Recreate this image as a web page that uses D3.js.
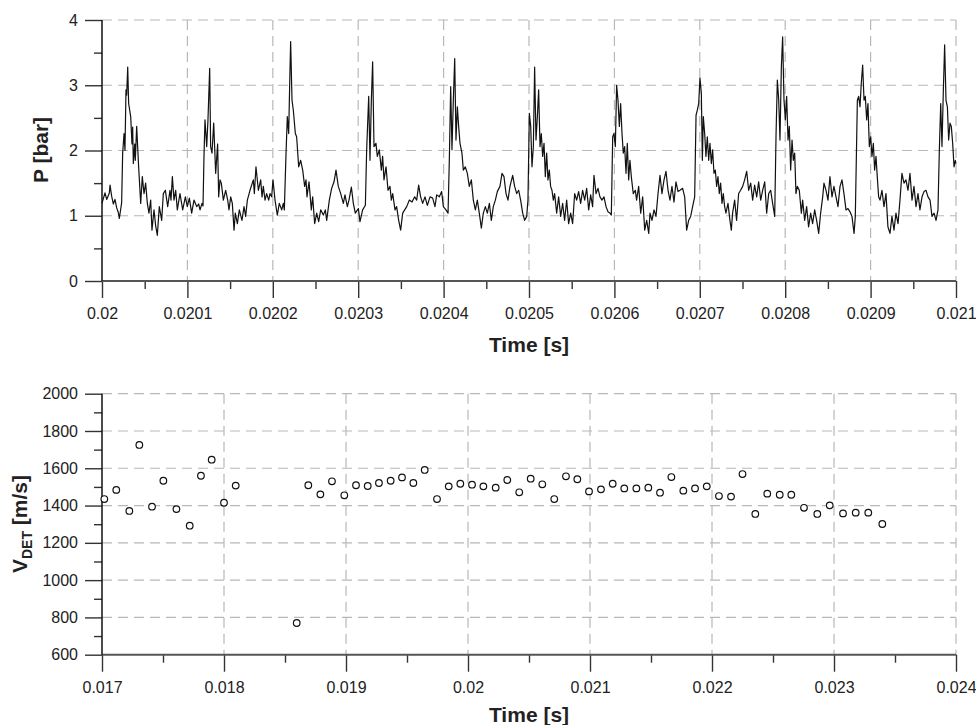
<!DOCTYPE html>
<html>
<head>
<meta charset="utf-8">
<script src="https://cdn.jsdelivr.net/npm/d3@7"></script>
<style>
  body { margin: 0; background: #fff; }
  svg { display: block; font-family: "Liberation Sans", Arial, Helvetica, sans-serif; }
  .tick text { font-size: 16px; fill: #222; }
  .title { font-size: 21px; font-weight: bold; fill: #222; }
  .grid { stroke: #b8b8b8; stroke-width: 1.2; stroke-dasharray: 10,6; fill: none; }
</style>
</head>
<body>
<svg width="976" height="725"></svg>
<script>
// ---- top panel: pressure trace, time given as microseconds after 0.020 s ----
var pTimeUs = [
  0.0,3.5,5.5,8.6,9.4,11.3,13.3,15.2,17.2,19.1,20.3,21.9,23.0,24.2,25.8,26.9,28.1,28.9,30.1,31.2,
  33.6,35.1,35.9,36.7,38.3,39.0,40.6,42.9,45.3,47.2,49.2,51.1,53.1,55.0,57.0,58.5,60.9,62.8,64.8,67.1,
  69.9,71.8,74.2,76.9,79.6,80.8,82.4,84.3,86.3,88.2,91.3,94.5,97.6,99.9,102.3,105.0,107.7,110.9,113.2,114.8,
  117.1,118.3,119.4,120.6,122.6,124.1,126.1,127.2,128.8,130.8,133.1,135.4,136.6,138.2,139.7,142.1,144.8,147.2,148.7,150.7,
  152.6,154.6,156.1,158.5,160.8,163.9,166.3,168.2,170.2,173.3,177.2,178.4,180.3,183.1,185.8,187.4,188.9,190.9,192.8,195.2,
  196.7,198.7,200.2,202.6,205.3,207.6,210.4,212.3,213.5,215.5,217.0,218.6,219.8,220.9,222.5,224.0,226.4,227.9,230.3,232.6,
  235.0,237.3,238.9,240.0,242.4,245.1,246.7,249.0,251.4,253.7,256.1,259.2,261.5,263.1,266.2,
  268.9,271.7,274.0,276.7,279.5,282.6,284.5,287.3,289.2,292.0,294.3,296.6,300.2,302.1,305.2,308.4,309.9,312.3,313.8,315.4,
  316.9,318.5,320.8,322.4,324.7,327.1,328.6,330.2,332.6,334.9,337.2,338.8,340.4,343.1,345.0,347.4,349.7,352.1,354.4,356.8,
  359.9,363.0,366.1,368.5,370.8,373.1,375.5,378.2,381.0,384.1,387.2,389.9,391.9,395.0,397.7,399.7,402.8,405.2,406.7,408.3,
  409.8,411.4,413.0,414.5,416.1,417.6,419.2,421.5,423.1,425.4,427.8,430.1,432.5,434.8,437.2,439.5,441.8,444.2,446.5,448.9,
  451.2,453.6,455.9,458.2,460.6,462.9,466.0,468.4,470.7,473.1,475.4,477.7,480.9,483.2,485.6,487.9,490.2,492.6,494.9,497.3,
  498.8,500.4,502.0,503.5,505.1,506.6,508.2,509.8,511.3,512.9,514.4,516.0,517.6,519.1,520.7,522.2,523.8,525.3,526.9,528.5,
  530.0,532.4,534.7,537.1,539.4,541.7,544.1,546.4,548.8,551.1,553.5,555.8,558.1,560.5,562.8,565.2,567.5,569.9,572.2,574.5,
  576.1,578.5,580.8,583.1,585.5,587.8,590.2,592.5,594.9,596.4,598.0,599.5,601.1,602.6,604.2,605.8,607.3,608.9,610.4,612.0,
  613.6,615.1,616.7,618.2,619.8,622.1,624.5,626.0,628.4,630.8,633.1,635.5,637.8,640.2,
  641.7,644.0,646.4,648.7,651.1,653.4,655.7,658.1,660.4,662.8,665.1,667.4,669.8,672.1,674.5,676.8,679.9,682.3,684.6,687.0,
  689.3,691.6,694.0,695.6,697.1,698.7,700.2,701.8,703.0,704.1,705.7,707.2,708.8,710.4,711.9,713.5,715.0,716.6,718.2,719.7,
  721.3,722.8,724.4,726.0,727.5,729.1,730.6,733.0,735.3,736.9,738.4,740.8,743.1,745.5,747.8,750.2,752.5,754.9,757.2,759.6,
  761.9,764.2,766.6,768.9,771.3,773.6,776.0,778.3,780.7,783.0,785.3,787.7,789.3,790.8,792.4,793.9,795.5,797.0,798.6,800.2,
  801.7,803.3,804.8,806.4,808.0,809.5,811.1,812.6,814.2,816.5,818.9,820.4,822.8,825.1,827.4,829.8,832.1,834.5,836.8,839.2,
  841.5,843.9,845.4,847.8,850.1,852.4,854.8,857.1,859.5,861.8,864.2,866.5,868.8,871.2,873.5,875.9,878.2,880.6,882.1,884.5,
  886.0,887.6,889.1,890.7,892.3,893.8,895.4,896.9,898.5,900.1,901.6,903.2,904.7,906.3,907.8,909.4,911.0,913.3,915.7,918.0,
  920.3,922.7,925.0,927.4,929.7,932.1,934.4,936.7,939.1,941.4,943.8,946.1,948.5,950.8,953.2,955.5,957.8,960.2,962.5,964.9,
  967.2,969.6,971.9,974.3,976.6,978.9,980.5,982.1,983.6,985.2,986.7,988.3,989.9,991.4,993.0,994.5,996.1,997.7,999.2,1000.0
];
var pBar = [
  1.19,1.35,1.25,1.35,1.47,1.3,1.18,1.25,1.12,1.05,0.96,1.1,1.2,1.96,2.26,2.0,2.93,2.85,3.28,2.72,
  2.52,2.1,2.36,1.8,2.1,1.85,2.37,1.75,1.19,1.6,1.34,1.5,1.19,1.04,1.24,0.78,1.09,0.85,0.7,1.14,
  0.93,1.34,1.39,1.14,1.39,1.24,1.6,1.24,1.39,1.09,1.34,1.09,1.29,1.14,1.27,1.04,1.24,1.14,1.18,1.09,
  1.19,1.15,1.9,2.47,2.06,2.47,3.26,2.06,1.96,2.42,1.65,2.1,1.29,1.55,1.5,1.24,1.39,1.24,1.09,1.29,
  1.19,0.78,1.04,0.88,1.09,0.93,1.14,0.99,1.24,1.39,1.55,1.34,1.75,1.39,1.55,1.29,1.45,1.24,1.34,1.24,
  1.34,1.29,1.55,1.24,1.01,1.19,1.09,1.19,1.09,1.96,2.52,2.26,3.03,3.67,2.77,2.62,2.26,2.21,1.75,1.85,
  1.7,1.45,1.55,1.29,1.52,1.09,1.29,0.88,1.04,0.91,1.09,1.01,1.09,0.93,1.24,
  1.42,1.52,1.7,1.45,1.34,1.19,1.32,1.14,1.24,1.44,1.19,1.04,1.11,0.91,1.09,1.16,2.01,2.83,1.85,2.77,
  3.36,2.06,2.11,1.91,2.01,1.7,1.91,1.55,1.75,1.39,1.45,1.24,1.34,1.09,1.14,0.93,0.78,1.04,1.09,1.14,
  1.24,1.21,1.29,1.24,1.47,1.29,1.19,1.29,1.16,1.29,1.27,1.14,1.32,1.29,1.37,1.14,1.09,1.04,1.85,2.98,
  2.01,2.77,3.41,2.16,2.67,2.37,2.11,1.96,1.7,1.75,1.65,1.45,1.55,1.24,1.09,1.24,1.04,0.81,1.04,1.14,
  1.04,1.19,0.93,1.14,1.24,1.37,1.45,1.65,1.6,1.34,1.24,1.45,1.62,1.45,1.34,1.39,1.24,1.04,0.93,0.99,
  1.24,2.57,2.37,1.75,2.06,3.28,2.16,2.52,2.93,2.06,2.26,1.91,2.11,1.6,1.96,1.55,1.7,1.45,1.39,1.24,
  1.34,1.04,1.29,0.99,1.19,0.93,1.24,0.88,1.04,0.88,1.34,1.24,1.37,1.19,1.39,1.24,1.42,1.09,1.32,1.14,
  1.62,1.34,1.42,1.29,1.24,1.29,1.14,1.06,1.04,1.01,2.21,2.26,2.06,3.0,2.77,2.37,2.72,2.26,1.96,2.06,
  1.65,2.11,1.55,1.85,1.6,1.34,1.39,1.24,1.45,1.04,1.29,0.78,0.93,0.73,
  1.04,0.93,1.09,0.99,1.34,1.62,1.34,1.55,1.68,1.39,1.24,1.45,1.21,1.52,1.37,1.39,1.42,1.29,0.78,0.93,
  0.99,1.14,1.29,2.54,2.62,2.72,3.11,2.88,1.85,2.52,2.26,1.91,2.21,1.85,2.11,1.8,2.01,1.65,1.7,1.45,
  1.6,1.34,1.5,1.19,1.34,1.14,1.04,1.19,0.93,0.78,1.04,1.24,0.93,1.34,1.39,1.45,1.55,1.68,1.39,1.5,
  1.24,1.47,1.29,1.52,1.24,1.39,1.52,1.04,1.34,1.39,1.19,0.99,2.26,3.08,2.77,2.16,3.28,3.74,2.77,2.47,
  2.83,2.16,2.37,1.7,2.16,1.85,1.96,1.34,1.45,1.39,1.04,1.24,0.93,1.14,0.83,1.04,0.88,1.09,0.93,0.73,
  1.04,1.29,1.5,1.39,1.24,1.6,1.29,1.45,1.29,1.14,1.45,1.55,1.34,1.09,1.11,1.06,0.99,0.73,0.99,2.77,
  2.83,2.67,3.03,3.31,2.77,2.83,2.47,2.72,2.06,2.21,1.91,2.11,1.7,1.91,1.6,1.29,1.24,1.39,1.14,1.34,
  0.83,0.73,0.99,0.78,1.04,0.88,1.24,1.65,1.5,1.55,1.39,1.65,1.24,1.45,1.14,1.34,1.09,1.29,1.37,1.39,
  1.29,1.24,0.99,1.04,0.93,1.09,2.01,2.72,2.06,2.93,3.62,2.77,2.67,2.16,2.42,2.37,2.11,1.75,1.85,1.8
];
var pXTicks = [0.02,0.0201,0.0202,0.0203,0.0204,0.0205,0.0206,0.0207,0.0208,0.0209,0.021];
var pYTicks = [0,1,2,3,4];

// ---- bottom panel: detonation velocity ----
var vTime = [
  0.017019,0.017117,0.017224,0.017306,0.01741,0.017503,0.01761,0.017719,0.017811,0.017899,
  0.018,0.018096,0.018596,0.018691,0.01879,0.018885,0.018986,0.019082,0.019178,0.01927,
  0.019366,0.019459,0.019552,0.019645,0.019746,0.019842,0.019937,0.020033,0.020126,0.020227,
  0.020322,0.02042,0.020514,0.020609,0.020707,0.020803,0.020896,0.020992,0.02109,0.021186,
  0.021281,0.02138,0.021478,0.021574,0.021667,0.021765,0.021861,0.021957,0.022057,0.022156,
  0.02225,0.022355,0.022453,0.022555,0.02265,0.022754,0.022863,0.022965,0.023074,0.023178,
  0.023281,0.023396
];
var vDet = [
  1435,1484,1371,1725,1394,1533,1381,1292,1560,1646,
  1415,1507,770,1509,1460,1530,1455,1509,1505,1521,
  1533,1551,1521,1591,1435,1503,1517,1512,1503,1496,
  1537,1471,1544,1514,1435,1557,1541,1476,1487,1517,
  1492,1492,1496,1469,1553,1480,1492,1503,1451,1448,
  1569,1355,1464,1458,1458,1388,1355,1401,1358,1362,
  1362,1301
];
var vXTicks = [0.017,0.018,0.019,0.02,0.021,0.022,0.023,0.024];
var vYTicks = [600,800,1000,1200,1400,1600,1800,2000];

var svg = d3.select('svg');
var fmt = d3.format('~g');

// scales
var xTop = d3.scaleLinear().domain([0.02, 0.021]).range([102, 956]);
var yTop = d3.scaleLinear().domain([0, 4]).range([281, 20]);
var xBot = d3.scaleLinear().domain([0.017, 0.024]).range([102, 956]);
var yBot = d3.scaleLinear().domain([600, 2000]).range([654.7, 393.7]);

// midpoints between major ticks for the short ticks
function halves(t) {
  var out = [];
  for (var i = 0; i < t.length - 1; i++) out.push((t[i] + t[i + 1]) / 2);
  return out;
}

function frame(x, y, xTicks, yTicks) {
  var g = svg.append('g');
  var y0 = y.range()[0], y1 = y.range()[1];
  var x0 = x.range()[0], x1 = x.range()[1];

  // dashed grid
  g.selectAll('.vg').data(xTicks.slice(1)).enter().append('line')
    .attr('class', 'grid')
    .attr('x1', function(d) { return x(d); }).attr('x2', function(d) { return x(d); })
    .attr('y1', y1).attr('y2', y0);
  g.selectAll('.hg').data(yTicks.slice(1)).enter().append('line')
    .attr('class', 'grid')
    .attr('x1', x0).attr('x2', x1)
    .attr('y1', function(d) { return y(d); }).attr('y2', function(d) { return y(d); });

  // axes: long ticks, then short ones in between
  var ax = g.append('g').attr('transform', 'translate(0,' + y0 + ')')
    .call(d3.axisBottom(x).tickValues(xTicks).tickSize(17).tickPadding(10).tickFormat(fmt));
  var axm = g.append('g').attr('transform', 'translate(0,' + y0 + ')')
    .call(d3.axisBottom(x).tickValues(halves(xTicks)).tickSize(8).tickFormat(''));
  var ay = g.append('g').attr('transform', 'translate(' + x0 + ',0)')
    .call(d3.axisLeft(y).tickValues(yTicks).tickSize(17).tickPadding(7).tickFormat(fmt));
  var aym = g.append('g').attr('transform', 'translate(' + x0 + ',0)')
    .call(d3.axisLeft(y).tickValues(halves(yTicks)).tickSize(8).tickFormat(''));

  [ax, axm, ay, aym].forEach(function(a) {
    a.attr('font-family', null).attr('font-size', null);
    a.select('.domain').remove();
    a.selectAll('.tick line').attr('stroke', '#333').attr('stroke-width', 1.4);
  });

  g.append('line').attr('x1', x0).attr('x2', x1).attr('y1', y0).attr('y2', y0)
    .attr('stroke', '#555').attr('stroke-width', 2);
  g.append('line').attr('x1', x0).attr('x2', x0).attr('y1', y1).attr('y2', y0)
    .attr('stroke', '#111').attr('stroke-width', 1.5);
  return g;
}

// top chart
frame(xTop, yTop, pXTicks, pYTicks);

var pData = pTimeUs.map(function(d, i) { return {t: 0.02 + d * 1e-6, p: pBar[i]}; });
var line = d3.line()
  .x(function(d) { return xTop(d.t); })
  .y(function(d) { return yTop(d.p); });
svg.append('path')
  .datum(pData)
  .attr('d', line)
  .attr('fill', 'none')
  .attr('stroke', '#111')
  .attr('stroke-width', 1.2)
  .attr('stroke-linejoin', 'round');

svg.append('text').attr('class', 'title')
  .attr('transform', 'translate(48,150) rotate(-90)')
  .attr('text-anchor', 'middle')
  .text('P [bar]');
svg.append('text').attr('class', 'title')
  .attr('x', 529).attr('y', 352)
  .attr('text-anchor', 'middle')
  .text('Time [s]');

// bottom chart
frame(xBot, yBot, vXTicks, vYTicks);

svg.append('g').selectAll('circle')
  .data(vTime)
  .enter()
  .append('circle')
    .attr('cx', function(d) { return xBot(d); })
    .attr('cy', function(d, i) { return yBot(vDet[i]); })
    .attr('r', 3.3)
    .attr('fill', '#fff')
    .attr('stroke', '#111')
    .attr('stroke-width', 1.2);

var vl = svg.append('text').attr('class', 'title')
  .attr('transform', 'translate(27,524) rotate(-90)')
  .attr('text-anchor', 'middle');
vl.append('tspan').text('V');
vl.append('tspan').attr('font-size', '14px').attr('dy', 5).text('DET');
vl.append('tspan').attr('dy', -5).text(' [m/s]');

svg.append('text').attr('class', 'title')
  .attr('x', 529).attr('y', 722)
  .attr('text-anchor', 'middle')
  .text('Time [s]');
</script>
</body>
</html>
